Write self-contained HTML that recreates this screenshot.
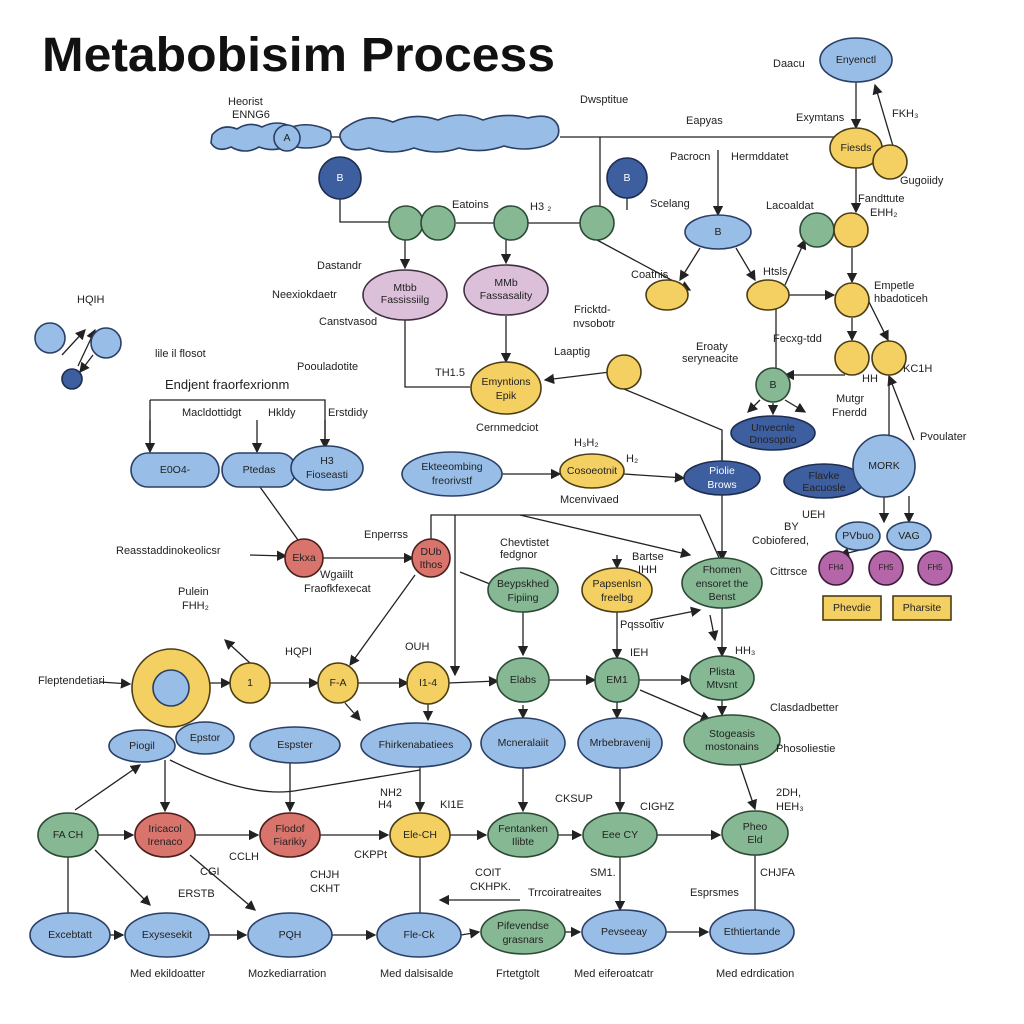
<!DOCTYPE html>
<html><head><meta charset="utf-8"><style>
html,body{margin:0;padding:0;background:#fff;}
svg{display:block;font-family:"Liberation Sans",sans-serif;}
text{font-size:11px;fill:#222;}
.t{text-anchor:middle;dominant-baseline:middle;font-size:10.5px;}
.b{fill:#98bde6;stroke:#2a3f66;stroke-width:1.6}
.db{fill:#3d5e9f;stroke:#1d2d50;stroke-width:1.6}
.g{fill:#86b894;stroke:#2c4a35;stroke-width:1.6}
.y{fill:#f4cf62;stroke:#4a3c14;stroke-width:1.6}
.p{fill:#dcbfd9;stroke:#3f2f40;stroke-width:1.6}
.r{fill:#d9746c;stroke:#4a1f1c;stroke-width:1.6}
.m{fill:#b466a8;stroke:#3a1a36;stroke-width:1.6}
.l{stroke:#222;stroke-width:1.3;fill:none;marker-end:url(#a)}
.n{stroke:#222;stroke-width:1.3;fill:none}
</style></head><body>
<svg width="1024" height="1024" viewBox="0 0 1024 1024">
<defs><marker id="a" markerWidth="8" markerHeight="8" refX="7" refY="4" orient="auto"><path d="M0,0 L8,4 L0,8 z" fill="#222"/></marker></defs>
<rect width="1024" height="1024" fill="#fff"/>
<text x="42" y="71" textLength="513" lengthAdjust="spacingAndGlyphs" style="font-size:48px;font-weight:bold;fill:#111">Metabobisim Process</text>

<!-- connectors -->
<path class="n" d="M330,137 H345"/>
<path class="n" d="M560,137 H848"/>
<path class="n" d="M340,158 V222 H389"/>
<path class="n" d="M456,223 H494"/><path class="n" d="M528,223 H580"/>
<path class="n" d="M627,158 V210"/>
<path class="n" d="M600,137 V210"/>
<path class="l" d="M405,240 V268"/><path class="l" d="M506,240 V263"/>
<path class="l" d="M597,240 L690,290"/>
<path class="n" d="M405,320 V387 H470"/>
<path class="l" d="M506,316 V362"/>
<path class="l" d="M718,150 V215"/><path class="l" d="M700,248 L680,280"/><path class="l" d="M736,248 L755,280"/>
<path class="l" d="M788,295 L834,295"/><path class="l" d="M785,285 L805,240"/>
<path class="l" d="M856,82 V128"/><path class="l" d="M893,146 L875,85"/>
<path class="l" d="M856,168 V212"/><path class="l" d="M852,248 V282"/>
<path class="l" d="M852,318 V340"/><path class="l" d="M868,300 L888,340"/>
<path class="l" d="M845,375 L785,375"/><path class="l" d="M773,403 V414"/>
<path class="l" d="M889,376 V446"/><path class="l" d="M914,440 L889,376"/>
<path class="l" d="M760,400 L748,412"/><path class="l" d="M785,400 L805,412"/>
<path class="n" d="M776,300 V400"/>
<path class="l" d="M884,496 V522"/><path class="l" d="M860,550 L840,555"/>
<path class="l" d="M909,496 L909,522"/>
<path class="l" d="M610,372 L545,380"/><path class="n" d="M624,389 L722,430 V460"/>
<path class="l" d="M722,440 V560"/>
<path class="n" d="M150,400 V445"/><path class="n" d="M150,400 H325 V445"/>
<path class="l" d="M150,420 V452"/><path class="l" d="M257,420 V452"/><path class="l" d="M325,420 V448"/>
<path class="l" d="M502,474 L560,474"/><path class="l" d="M624,474 L684,478"/>
<path class="n" d="M260,487 L298,540"/>
<path class="l" d="M250,555 L286,556"/><path class="l" d="M322,558 L413,558"/>
<path class="n" d="M431,540 V515 H700 L720,560"/><path class="l" d="M455,515 V675"/>
<path class="l" d="M520,515 L690,555"/>
<path class="l" d="M460,572 L500,588"/><path class="l" d="M617,555 V568"/>
<path class="l" d="M523,612 V655"/><path class="l" d="M617,612 V658"/>
<path class="l" d="M650,620 L700,610"/><path class="l" d="M710,615 L715,640"/>
<path class="l" d="M722,608 V656"/>
<path class="l" d="M415,575 L350,665"/>
<path class="l" d="M100,682 L130,684"/><path class="l" d="M209,683 L230,683"/>
<path class="l" d="M270,683 L318,683"/><path class="l" d="M358,683 L408,683"/>
<path class="l" d="M448,683 L498,681"/><path class="l" d="M548,680 L595,680"/>
<path class="l" d="M639,680 L690,680"/>
<path class="l" d="M250,663 L225,640"/><path class="l" d="M345,703 L360,720"/><path class="l" d="M428,703 V720"/>
<path class="l" d="M523,705 V718"/><path class="l" d="M617,702 V718"/><path class="l" d="M722,700 V715"/>
<path class="l" d="M640,690 L710,720"/>
<path class="n" d="M170,760 Q250,800 300,790 Q360,780 420,770"/>
<path class="l" d="M165,760 V811"/><path class="l" d="M290,763 V811"/><path class="l" d="M420,767 V811"/>
<path class="l" d="M523,768 V811"/><path class="l" d="M620,768 V811"/><path class="l" d="M740,765 L755,809"/>
<path class="l" d="M75,810 L140,765"/>
<path class="l" d="M98,835 L133,835"/><path class="l" d="M195,835 L258,835"/><path class="l" d="M320,835 L388,835"/>
<path class="l" d="M450,835 L486,835"/><path class="l" d="M558,835 L581,835"/><path class="l" d="M657,835 L720,835"/>
<path class="l" d="M95,850 L150,905"/><path class="l" d="M190,855 L255,910"/>
<path class="n" d="M68,857 V913"/><path class="n" d="M420,857 V913"/><path class="n" d="M755,855 V910"/>
<path class="l" d="M110,935 L123,935"/><path class="l" d="M209,935 L246,935"/><path class="l" d="M332,935 L375,935"/>
<path class="l" d="M461,935 L479,932"/><path class="l" d="M565,932 L580,932"/><path class="l" d="M666,932 L708,932"/>
<path class="l" d="M520,900 L440,900"/><path class="l" d="M620,857 V910"/>
<path class="l" d="M62,355 L85,330"/><path class="l" d="M93,355 L80,372"/><path class="l" d="M78,366 L95,330"/>

<!-- blobs -->
<path class="b" d="M212,135 q10,-12 25,-6 q12,-8 25,-2 q15,-8 30,0 q18,-6 38,4 q4,10 -6,14 q-18,6 -35,0 q-14,8 -30,2 q-14,8 -28,0 q-14,6 -20,-4 z"/>
<circle class="b" cx="287" cy="138" r="13"/>
<path class="b" d="M348,126 q20,-14 45,-4 q22,-10 45,-2 q22,-10 45,0 q22,-8 45,-2 q24,-6 30,8 q4,14 -14,20 q-20,6 -40,0 q-22,8 -45,2 q-22,8 -45,0 q-22,8 -45,0 q-22,6 -28,-8 q-4,-8 7,-14 z"/>
<circle class="db" cx="340" cy="178" r="21"/><circle class="db" cx="627" cy="178" r="20"/>
<circle class="g" cx="406" cy="223" r="17"/><circle class="g" cx="438" cy="223" r="17"/>
<circle class="g" cx="511" cy="223" r="17"/><circle class="g" cx="597" cy="223" r="17"/>
<ellipse class="p" cx="405" cy="295" rx="42" ry="25"/><ellipse class="p" cx="506" cy="290" rx="42" ry="25"/>
<ellipse class="b" cx="718" cy="232" rx="33" ry="17"/>
<ellipse class="y" cx="667" cy="295" rx="21" ry="15"/><ellipse class="y" cx="768" cy="295" rx="21" ry="15"/>
<ellipse class="y" cx="506" cy="388" rx="35" ry="26"/><circle class="y" cx="624" cy="372" r="17"/>
<ellipse class="b" cx="856" cy="60" rx="36" ry="22"/>
<ellipse class="y" cx="856" cy="148" rx="26" ry="20"/><circle class="y" cx="890" cy="162" r="17"/>
<circle class="g" cx="817" cy="230" r="17"/><circle class="y" cx="851" cy="230" r="17"/>
<circle class="y" cx="852" cy="300" r="17"/><circle class="y" cx="852" cy="358" r="17"/><circle class="y" cx="889" cy="358" r="17"/>
<circle class="g" cx="773" cy="385" r="17"/>
<ellipse class="db" cx="773" cy="433" rx="42" ry="17"/><ellipse class="db" cx="824" cy="481" rx="40" ry="17"/>
<circle class="b" cx="884" cy="466" r="31"/>
<ellipse class="b" cx="858" cy="536" rx="22" ry="14"/><ellipse class="b" cx="909" cy="536" rx="22" ry="14"/>
<circle class="m" cx="836" cy="568" r="17"/><circle class="m" cx="886" cy="568" r="17"/><circle class="m" cx="935" cy="568" r="17"/>
<rect class="y" x="823" y="596" width="58" height="24"/><rect class="y" x="893" y="596" width="58" height="24"/>
<circle class="b" cx="50" cy="338" r="15"/><circle class="b" cx="106" cy="343" r="15"/><circle class="db" cx="72" cy="379" r="10"/>
<rect class="b" x="131" y="453" width="88" height="34" rx="17"/>
<rect class="b" x="222" y="453" width="74" height="34" rx="17"/>
<ellipse class="b" cx="327" cy="468" rx="36" ry="22"/>
<ellipse class="b" cx="452" cy="474" rx="50" ry="22"/>
<ellipse class="y" cx="592" cy="471" rx="32" ry="17"/>
<ellipse class="db" cx="722" cy="478" rx="38" ry="17"/>
<circle class="r" cx="304" cy="558" r="19"/><circle class="r" cx="431" cy="558" r="19"/>
<ellipse class="g" cx="523" cy="590" rx="35" ry="22"/><ellipse class="y" cx="617" cy="590" rx="35" ry="22"/>
<ellipse class="g" cx="722" cy="583" rx="40" ry="25"/>
<circle class="y" cx="171" cy="688" r="39"/><circle class="b" cx="171" cy="688" r="18"/>
<circle class="y" cx="250" cy="683" r="20"/><circle class="y" cx="338" cy="683" r="20"/><circle class="y" cx="428" cy="683" r="21"/>
<ellipse class="g" cx="523" cy="680" rx="26" ry="22"/><ellipse class="g" cx="617" cy="680" rx="22" ry="22"/>
<ellipse class="g" cx="722" cy="678" rx="32" ry="22"/>
<ellipse class="b" cx="142" cy="746" rx="33" ry="16"/><ellipse class="b" cx="205" cy="738" rx="29" ry="16"/>
<ellipse class="b" cx="295" cy="745" rx="45" ry="18"/><ellipse class="b" cx="416" cy="745" rx="55" ry="22"/>
<ellipse class="b" cx="523" cy="743" rx="42" ry="25"/><ellipse class="b" cx="620" cy="743" rx="42" ry="25"/>
<ellipse class="g" cx="732" cy="740" rx="48" ry="25"/>
<ellipse class="g" cx="68" cy="835" rx="30" ry="22"/><ellipse class="r" cx="165" cy="835" rx="30" ry="22"/>
<ellipse class="r" cx="290" cy="835" rx="30" ry="22"/><ellipse class="y" cx="420" cy="835" rx="30" ry="22"/>
<ellipse class="g" cx="523" cy="835" rx="35" ry="22"/><ellipse class="g" cx="620" cy="835" rx="37" ry="22"/>
<ellipse class="g" cx="755" cy="833" rx="33" ry="22"/>
<ellipse class="b" cx="70" cy="935" rx="40" ry="22"/><ellipse class="b" cx="167" cy="935" rx="42" ry="22"/>
<ellipse class="b" cx="290" cy="935" rx="42" ry="22"/><ellipse class="b" cx="419" cy="935" rx="42" ry="22"/>
<ellipse class="g" cx="523" cy="932" rx="42" ry="22"/><ellipse class="b" cx="624" cy="932" rx="42" ry="22"/>
<ellipse class="b" cx="752" cy="932" rx="42" ry="22"/>

<!-- node labels -->
<g class="lbl">
<text class="t" x="287" y="138">A</text><text class="t" x="340" y="178" style="fill:#fff">B</text><text class="t" x="627" y="178" style="fill:#fff">B</text>
<text class="t" x="405" y="288">Mtbb</text><text class="t" x="405" y="300">Fassissiilg</text>
<text class="t" x="506" y="283">MMb</text><text class="t" x="506" y="296">Fassasality</text>
<text class="t" x="718" y="232">B</text>
<text class="t" x="506" y="382">Emyntions</text><text class="t" x="506" y="396">Epik</text>
<text class="t" x="856" y="60">Enyenctl</text><text class="t" x="856" y="148">Fiesds</text><text class="t" x="773" y="385">B</text>
<text class="t" x="773" y="428">Unvecnle</text><text class="t" x="773" y="440">Dnosoptio</text>
<text class="t" x="824" y="476">Flavke</text><text class="t" x="824" y="488">Eacuosle</text>
<text class="t" x="884" y="466">MORK</text><text class="t" x="858" y="536">PVbuo</text><text class="t" x="909" y="536">VAG</text>
<text class="t" x="836" y="568" style="font-size:8px">FH4</text><text class="t" x="886" y="568" style="font-size:8px">FH5</text><text class="t" x="935" y="568" style="font-size:8px">FH5</text>
<text class="t" x="852" y="608">Phevdie</text><text class="t" x="922" y="608">Pharsite</text>
<text class="t" x="175" y="470">E0O4-</text><text class="t" x="259" y="470">Ptedas</text>
<text class="t" x="327" y="461">H3</text><text class="t" x="327" y="475">Fioseasti</text>
<text class="t" x="452" y="467">Ekteeombing</text><text class="t" x="452" y="481">freorivstf</text>
<text class="t" x="592" y="471">Cosoeotnit</text>
<text class="t" x="722" y="471" style="fill:#fff">Piolie</text><text class="t" x="722" y="485" style="fill:#fff">Brows</text>
<text class="t" x="304" y="558">Ekxa</text><text class="t" x="431" y="552">DUb</text><text class="t" x="431" y="565">Ithos</text>
<text class="t" x="523" y="584">Beypskhed</text><text class="t" x="523" y="598">Fipiing</text>
<text class="t" x="617" y="584">Papsenlsn</text><text class="t" x="617" y="598">freelbg</text>
<text class="t" x="722" y="570">Fhomen</text><text class="t" x="722" y="584">ensoret the</text><text class="t" x="722" y="597">Benst</text>
<text class="t" x="250" y="683">1</text><text class="t" x="338" y="683">F-A</text><text class="t" x="428" y="683">I1-4</text>
<text class="t" x="523" y="680">Elabs</text><text class="t" x="617" y="680">EM1</text>
<text class="t" x="722" y="672">Plista</text><text class="t" x="722" y="685">Mtvsnt</text>
<text class="t" x="142" y="746">Piogil</text><text class="t" x="205" y="738">Epstor</text><text class="t" x="295" y="745">Espster</text>
<text class="t" x="416" y="745">Fhirkenabatiees</text><text class="t" x="523" y="743">Mcneralaiit</text><text class="t" x="620" y="743">Mrbebravenij</text>
<text class="t" x="732" y="734">Stogeasis</text><text class="t" x="732" y="747">mostonains</text>
<text class="t" x="68" y="835">FA CH</text><text class="t" x="165" y="829">Iricacol</text><text class="t" x="165" y="842">Irenaco</text>
<text class="t" x="290" y="829">Flodof</text><text class="t" x="290" y="842">Fiarikiy</text><text class="t" x="420" y="835">Ele-CH</text>
<text class="t" x="523" y="829">Fentanken</text><text class="t" x="523" y="842">Ilibte</text><text class="t" x="620" y="835">Eee CY</text>
<text class="t" x="755" y="827">Pheo</text><text class="t" x="755" y="840">Eld</text>
<text class="t" x="70" y="935">Excebtatt</text><text class="t" x="167" y="935">Exysesekit</text><text class="t" x="290" y="935">PQH</text>
<text class="t" x="419" y="935">Fle-Ck</text><text class="t" x="523" y="926">Pifevendse</text><text class="t" x="523" y="940">grasnars</text>
<text class="t" x="624" y="932">Pevseeay</text><text class="t" x="752" y="932">Ethtiertande</text>
</g>

<!-- free labels -->
<text x="228" y="105">Heorist</text><text x="232" y="118">ENNG6</text>
<text x="580" y="103">Dwsptitue</text><text x="452" y="208">Eatoins</text><text x="530" y="210">H3 ₂</text>
<text x="686" y="124">Eapyas</text><text x="796" y="121">Exymtans</text><text x="773" y="67">Daacu</text>
<text x="892" y="117">FKH₃</text><text x="900" y="184">Gugoiidy</text>
<text x="670" y="160">Pacrocn</text><text x="731" y="160">Hermddatet</text>
<text x="650" y="207">Scelang</text><text x="766" y="209">Lacoaldat</text>
<text x="858" y="202">Fandttute</text><text x="870" y="216">EHH₂</text>
<text x="317" y="269">Dastandr</text><text x="272" y="298">Neexiokdaetr</text><text x="319" y="325">Canstvasod</text>
<text x="574" y="313">Fricktd-</text><text x="573" y="327">nvsobotr</text>
<text x="631" y="278">Coatnis</text><text x="763" y="275">Htsls</text>
<text x="874" y="289">Empetle</text><text x="874" y="302">hbadoticeh</text>
<text x="554" y="355">Laaptig</text><text x="696" y="350">Eroaty</text><text x="682" y="362">seryneacite</text>
<text x="773" y="342">Fecxg-tdd</text><text x="862" y="382">HH</text><text x="903" y="372">KC1H</text>
<text x="836" y="402">Mutgr</text><text x="832" y="416">Fnerdd</text><text x="920" y="440">Pvoulater</text>
<text x="77" y="303">HQIH</text><text x="155" y="357">lile il flosot</text><text x="297" y="370">Poouladotite</text>
<text x="435" y="376">TH1.5</text><text x="165" y="389" style="font-size:13px">Endjent fraorfexrionm</text>
<text x="182" y="416">Macldottidgt</text><text x="268" y="416">Hkldy</text><text x="328" y="416">Erstdidy</text>
<text x="476" y="431">Cernmedciot</text><text x="574" y="446">H₃H₂</text><text x="626" y="462">H₂</text>
<text x="560" y="503">Mcenvivaed</text><text x="784" y="530">BY</text><text x="802" y="518">UEH</text>
<text x="752" y="544">Cobiofered,</text><text x="770" y="575">Cittrsce</text>
<text x="116" y="554">Reasstaddinokeolicsr</text><text x="364" y="538">Enperrss</text>
<text x="320" y="578">Wgaiilt</text><text x="304" y="592">Fraofkfexecat</text>
<text x="500" y="546">Chevtistet</text><text x="500" y="558">fedgnor</text>
<text x="632" y="560">Bartse</text><text x="638" y="573">IHH</text>
<text x="620" y="628">Pqssoitiv</text><text x="178" y="595">Pulein</text><text x="182" y="609">FHH₂</text>
<text x="285" y="655">HQPI</text><text x="405" y="650">OUH</text><text x="630" y="656">IEH</text>
<text x="735" y="654">HH₃</text><text x="38" y="684">Fleptendetiari</text>
<text x="770" y="711">Clasdadbetter</text><text x="776" y="752">Phosoliestie</text>
<text x="776" y="796">2DH,</text><text x="776" y="810">HEH₃</text>
<text x="380" y="796">NH2</text><text x="378" y="808">H4</text><text x="440" y="808">KI1E</text>
<text x="555" y="802">CKSUP</text><text x="640" y="810">CIGHZ</text>
<text x="200" y="875">CGI</text><text x="178" y="897">ERSTB</text><text x="229" y="860">CCLH</text>
<text x="310" y="878">CHJH</text><text x="310" y="892">CKHT</text><text x="354" y="858">CKPPt</text>
<text x="475" y="876">COIT</text><text x="470" y="890">CKHPK.</text><text x="590" y="876">SM1.</text>
<text x="528" y="896">Trrcoiratreaites</text><text x="690" y="896">Esprsmes</text><text x="760" y="876">CHJFA</text>
<text x="130" y="977">Med ekildoatter</text><text x="248" y="977">Mozkediarration</text>
<text x="380" y="977">Med dalsisalde</text><text x="496" y="977">Frtetgtolt</text>
<text x="574" y="977">Med eiferoatcatr</text><text x="716" y="977">Med edrdication</text>
</svg>
</body></html>
